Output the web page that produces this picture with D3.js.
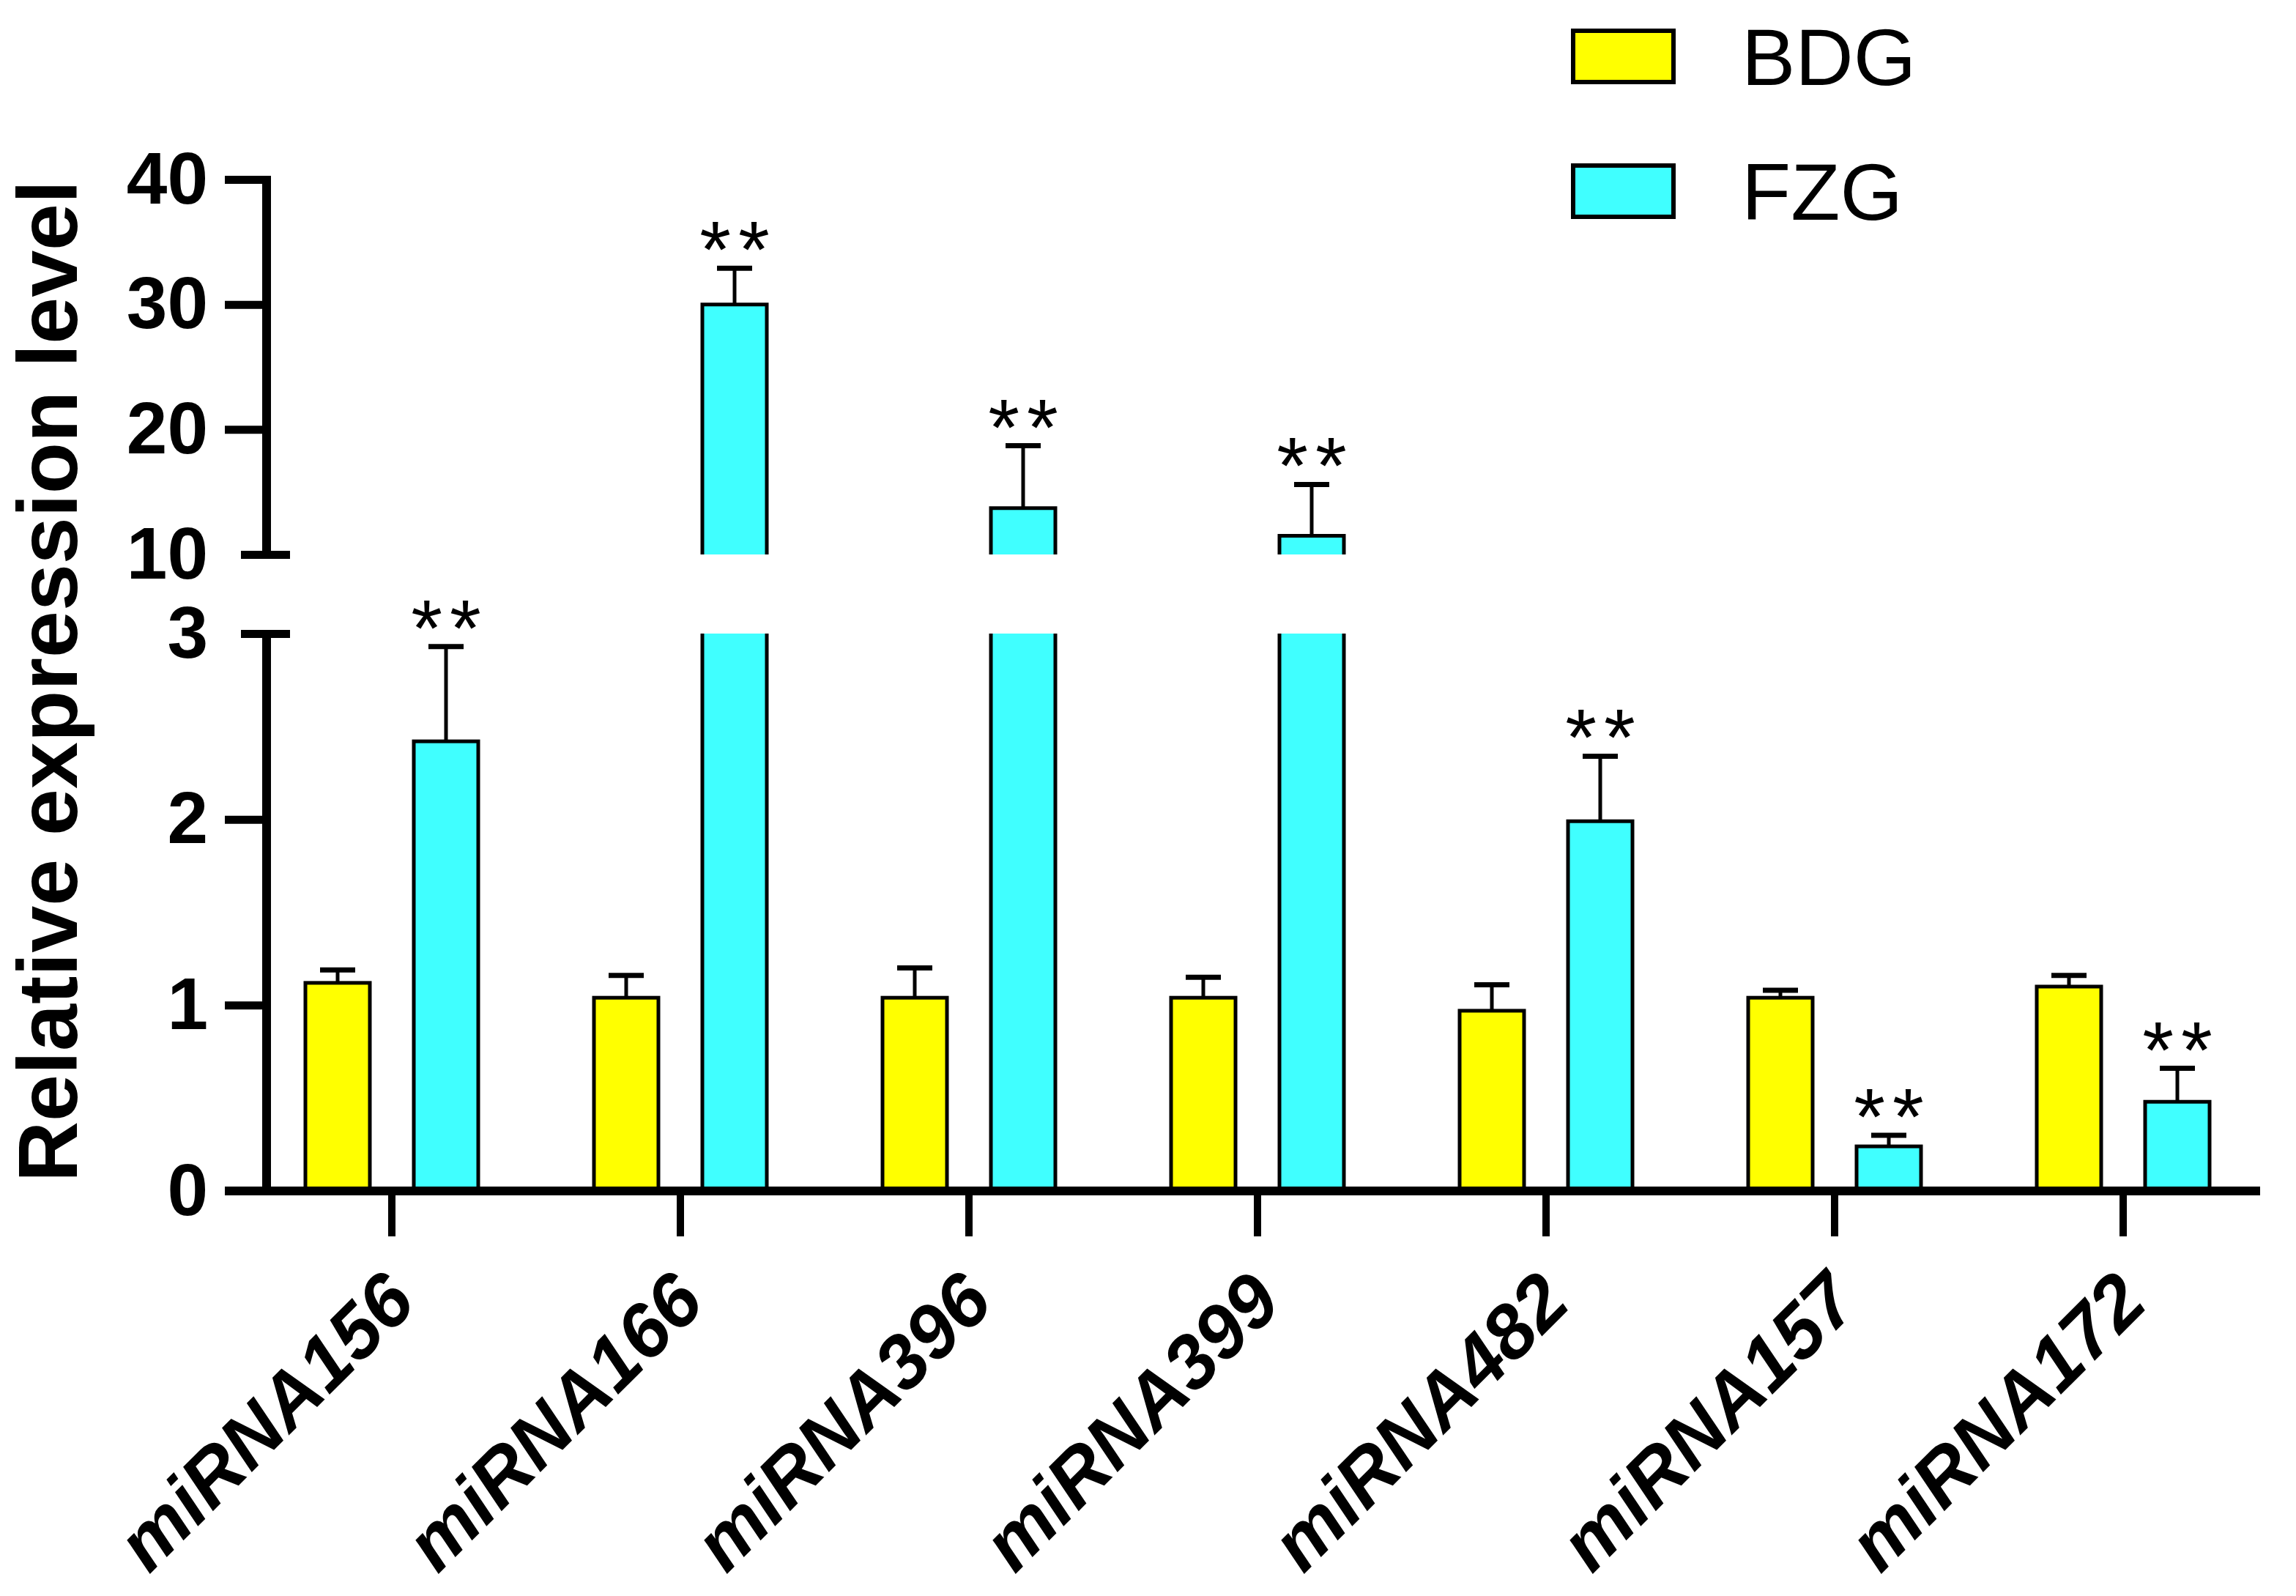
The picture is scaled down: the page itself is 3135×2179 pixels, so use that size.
<!DOCTYPE html>
<html>
<head>
<meta charset="utf-8">
<script src="https://cdn.jsdelivr.net/npm/d3@7"></script>
<style>
  html, body { margin: 0; padding: 0; background: #fff; }
  svg { display: block; }
  text { font-family: "Liberation Sans", Arial, Helvetica, sans-serif; fill: #000; }
</style>
</head>
<body>
<svg id="chart" width="3135" height="2179"></svg>
<script>
// ---- data ----
const categories = ["miRNA156", "miRNA166", "miRNA396", "miRNA399", "miRNA482", "miRNA157", "miRNA172"];
const seriesNames = ["BDG", "FZG"];
const seriesColors = ["#FFFF00", "#40FFFF"];
const bdgMean = [1.12, 1.04, 1.04, 1.04, 0.97, 1.04, 1.10];
const bdgErr  = [0.07, 0.12, 0.16, 0.11, 0.14, 0.04, 0.06];
const fzgMean = [2.42, 30.0, 13.7, 11.5, 1.99, 0.24, 0.48];
const fzgErr  = [0.51, 2.9, 5.0, 4.1, 0.35, 0.06, 0.18];
const fzgSig  = ["**", "**", "**", "**", "**", "**", "**"];
const lowerTicks = [0, 1, 2, 3];
const upperTicks = [10, 20, 30, 40];
const yTitle = "Relative expression level";

// ---- layout ----
const svg = d3.select("#chart");
svg.append("rect").attr("width", 3135).attr("height", 2179).attr("fill", "#fff");

const axisX = 364;
const x = d3.scaleBand().domain(categories).range([338, 3096]).paddingInner(0).paddingOuter(0);
const xg = d3.scalePoint().domain(seriesNames).range([-74, 74]);
const yLow = d3.scaleLinear().domain([0, 3]).range([1626, 865]);
const yUp = d3.scaleLinear().domain([10, 40]).range([757, 245]);
const yPos = v => (v <= 3 ? yLow(v) : yUp(v));
const barW = 88;
const lw = 5;

const data = [];
categories.forEach((c, i) => {
  data.push({ cat: c, s: "BDG", v: bdgMean[i], e: bdgErr[i], sig: "", color: seriesColors[0] });
  data.push({ cat: c, s: "FZG", v: fzgMean[i], e: fzgErr[i], sig: fzgSig[i], color: seriesColors[1] });
});
const cx = d => x(d.cat) + x.bandwidth() / 2 + xg(d.s);

// ---- bars ----
const bars = svg.append("g");
data.forEach(d => {
  const l = cx(d) - barW / 2, r = cx(d) + barW / 2;
  if (d.v <= 3) {
    bars.append("rect").attr("x", l).attr("y", yLow(d.v)).attr("width", barW)
      .attr("height", yLow(0) - yLow(d.v)).attr("fill", d.color)
      .attr("stroke", "#000").attr("stroke-width", lw);
  } else {
    bars.append("rect").attr("x", l).attr("y", yLow(3)).attr("width", barW)
      .attr("height", yLow(0) - yLow(3)).attr("fill", d.color);
    bars.append("path").attr("d", `M${l},${yLow(3)}V${yLow(0)}H${r}V${yLow(3)}`)
      .attr("fill", "none").attr("stroke", "#000").attr("stroke-width", lw);
    bars.append("rect").attr("x", l).attr("y", yUp(d.v)).attr("width", barW)
      .attr("height", yUp(10) - yUp(d.v)).attr("fill", d.color);
    bars.append("path").attr("d", `M${l},${yUp(10)}V${yUp(d.v)}H${r}V${yUp(10)}`)
      .attr("fill", "none").attr("stroke", "#000").attr("stroke-width", lw);
  }
  // error bar (upper only)
  const top = yPos(d.v + d.e), base = yPos(d.v);
  bars.append("line").attr("x1", cx(d)).attr("x2", cx(d)).attr("y1", base).attr("y2", top)
    .attr("stroke", "#000").attr("stroke-width", lw);
  bars.append("line").attr("x1", cx(d) - 24).attr("x2", cx(d) + 24).attr("y1", top).attr("y2", top)
    .attr("stroke", "#000").attr("stroke-width", lw + 2);
  if (d.sig) {
    bars.append("text").attr("x", cx(d) + 5).attr("y", top + 12)
      .attr("text-anchor", "middle").attr("font-size", 110)
      .attr("letter-spacing", 10).text(d.sig);
  }
});

// ---- y axes ----
const axW = 12;
function styleYAxis(g) {
  g.select(".domain").remove();
  g.selectAll(".tick line").attr("stroke", "#000").attr("stroke-width", 11);
  g.selectAll(".tick text").attr("font-size", 100).attr("font-weight", "bold")
    .style("font-family", '"Liberation Sans", Arial, sans-serif');
}
const gLow = svg.append("g").attr("transform", `translate(${axisX},0)`)
  .call(d3.axisLeft(yLow).tickValues(lowerTicks).tickSize(57).tickPadding(23).tickFormat(d3.format("d")));
styleYAxis(gLow);
const gUp = svg.append("g").attr("transform", `translate(${axisX},0)`)
  .call(d3.axisLeft(yUp).tickValues(upperTicks).tickSize(57).tickPadding(23).tickFormat(d3.format("d")));
styleYAxis(gUp);
// break markers replace ticks at 3 and 10
gLow.selectAll(".tick").filter(d => d === 3).select("line").attr("x1", -35).attr("x2", 32);
gUp.selectAll(".tick").filter(d => d === 10).select("line").attr("x1", -35).attr("x2", 32);

svg.append("line").attr("x1", axisX).attr("x2", axisX).attr("y1", yLow(3) - 5).attr("y2", yLow(0))
  .attr("stroke", "#000").attr("stroke-width", axW);
svg.append("line").attr("x1", axisX).attr("x2", axisX).attr("y1", yUp(40) - 5).attr("y2", yUp(10) + 5)
  .attr("stroke", "#000").attr("stroke-width", axW);

// ---- x axis ----
const gx = svg.append("g").attr("transform", `translate(0,${yLow(0)})`)
  .call(d3.axisBottom(x).tickSize(62).tickFormat(""));
gx.select(".domain").remove();
gx.selectAll(".tick line").attr("stroke", "#000").attr("stroke-width", 10);
svg.append("line").attr("x1", 307).attr("x2", 3086).attr("y1", yLow(0)).attr("y2", yLow(0))
  .attr("stroke", "#000").attr("stroke-width", axW);

svg.append("g").selectAll("text").data(categories).join("text")
  .attr("transform", d => `translate(${x(d) + x.bandwidth() / 2 + 11},1757) rotate(-45)`)
  .attr("text-anchor", "end").attr("dominant-baseline", "central")
  .attr("font-size", 104).attr("font-weight", "bold").attr("font-style", "italic")
  .text(d => d);

// ---- y title ----
svg.append("text").attr("transform", "translate(105,930) rotate(-90)")
  .attr("text-anchor", "middle").attr("font-size", 115).attr("font-weight", "bold")
  .text(yTitle);

// ---- legend ----
const legY = d3.scalePoint().domain(seriesNames).range([77, 261]);
const leg = svg.append("g");
seriesNames.forEach((s, i) => {
  leg.append("rect").attr("x", 2148).attr("y", legY(s) - 35).attr("width", 137).attr("height", 70)
    .attr("fill", seriesColors[i]).attr("stroke", "#000").attr("stroke-width", 6);
  leg.append("text").attr("x", 2378).attr("y", legY(s)).attr("dominant-baseline", "central")
    .attr("font-size", 110).text(s);
});
</script>
</body>
</html>
